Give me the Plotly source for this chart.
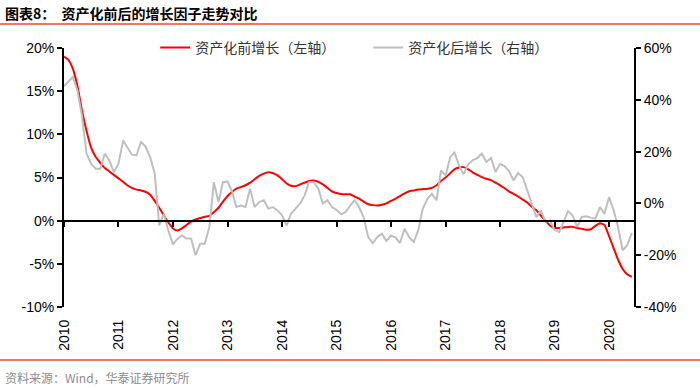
import plotly.graph_objects as go
import pandas as pd

# Monthly dates, Jan 2010 - Jun 2020
dates = pd.date_range("2010-01-01", periods=126, freq="MS").strftime("%Y-%m-%d").tolist()

# 资产化前增长（左轴）, %
pre_growth = [
    19.0, 18.6, 17.6, 15.6, 12.8, 10.4, 8.5, 7.4, 6.7, 6.1, 5.7, 5.3,
    4.9, 4.5, 4.1, 3.8, 3.6, 3.5, 3.35, 3.0, 2.3, 1.5, 0.6, -0.2,
    -0.9, -1.15, -0.9, -0.5, -0.1, 0.15, 0.3, 0.45, 0.55, 1.0, 1.5, 2.2,
    2.85, 3.35, 3.7, 3.9, 4.1, 4.4, 4.8, 5.2, 5.45, 5.6, 5.5, 5.25,
    4.8, 4.3, 4.05, 4.0, 4.2, 4.4, 4.6, 4.65, 4.5, 4.2, 3.8, 3.4,
    3.2, 3.1, 3.05, 3.05, 2.8, 2.55, 2.2, 1.9, 1.8, 1.75, 1.85, 2.0,
    2.3, 2.55, 2.85, 3.15, 3.4, 3.5, 3.6, 3.65, 3.7, 3.8, 4.1, 4.6,
    5.0, 5.5, 5.95, 6.15, 6.2, 5.95, 5.6, 5.3, 5.05, 4.85, 4.7, 4.4,
    4.1, 3.75, 3.4, 3.1, 2.8, 2.45, 2.1, 1.6, 1.2, 0.6, 0.0, -0.55,
    -0.85, -0.85, -0.8, -0.72, -0.72, -0.85, -0.95, -1.05, -1.0, -0.6, -0.3, -0.5,
    -1.8, -3.2, -4.5, -5.6, -6.2, -6.5,
]

# 资产化后增长（右轴）, %
post_growth = [
    45.2, 47.0, 48.8, 43.6, 34.0, 19.2, 15.3, 13.4, 13.4, 19.2, 16.6, 12.1,
    15.3, 24.3, 21.7, 18.8, 18.5, 23.7, 22.0, 17.9, 11.5, -8.5, -4.0, -10.4,
    -15.8, -13.6, -12.4, -13.6, -13.6, -20.0, -15.6, -15.6, -9.1, 8.2, 0.5, 8.2,
    8.5, 4.4, -1.4, -0.8, -1.4, 5.7, -1.4, 0.5, 1.2, -2.0, -1.4, -2.7,
    -4.6, -8.5, -4.0, -2.0, -0.1, 3.1, 8.2, 8.2, 5.7, -0.1, 1.2, -1.4,
    -2.5, -4.2, -3.4, -1.0, 1.2, -1.4, -5.3, -13.0, -15.3, -13.0, -11.7, -14.5,
    -12.4, -13.2, -15.3, -9.8, -13.0, -14.9, -10.4, -2.0, 1.8, 3.7, 1.2, 12.7,
    10.8, 17.9, 19.6, 14.7, 11.2, 15.1, 16.6, 17.5, 19.2, 16.0, 17.5, 12.1,
    15.3, 14.3, 12.5, 8.9, 11.7, 10.2, 5.0, -0.1, -5.3, -2.7, -7.2, -6.6,
    -10.2, -11.1, -7.2, -3.0, -4.6, -9.1, -5.3, -5.0, -5.5, -5.9, -1.4, -4.0,
    2.4, -2.7, -9.1, -18.1, -16.2, -11.5,
]

year_ticks = [f"{y}-01-01" for y in range(2010, 2021)]
year_labels = [str(y) for y in range(2010, 2021)]

FONT = "Liberation Sans, Arial, sans-serif"
CJK = "Noto Sans CJK SC, sans-serif"
x_range = ["2010-01-01", "2020-06-16"]

fig = go.Figure()
fig.add_trace(go.Scatter(
    x=dates, y=pre_growth, name="资产化前增长（左轴）", mode="lines",
    line=dict(color="#FF0000", width=2, shape="spline", smoothing=0.5),
    xaxis="x", yaxis="y",
))
fig.add_trace(go.Scatter(
    x=dates, y=post_growth, name="资产化后增长（右轴）", mode="lines",
    line=dict(color="#BFBFBF", width=2),
    xaxis="x", yaxis="y2",
))
# invisible helper trace so the zero-line x axis is drawn
fig.add_trace(go.Scatter(
    x=[dates[0]], y=[0], mode="lines", showlegend=False, hoverinfo="skip",
    line=dict(width=0), xaxis="x2", yaxis="y",
))

fig.update_layout(
    width=700, height=388,
    margin=dict(l=64, r=66, t=48, b=81),
    paper_bgcolor="white", plot_bgcolor="white",
    showlegend=True,
    legend=dict(
        orientation="h", x=0.16, y=1.0, xanchor="left", yanchor="middle",
        font=dict(family=CJK, size=14, color="#333333"),
        bgcolor="rgba(0,0,0,0)", entrywidth=168, entrywidthmode="pixels",
    ),
    xaxis=dict(
        type="date", range=x_range,
        tickvals=year_ticks, ticktext=year_labels, tickangle=-90,
        showline=False, showgrid=False, zeroline=False,
        ticks="outside", ticklen=6, tickcolor="rgba(0,0,0,0)",
        tickfont=dict(family=FONT, size=14, color="black"),
    ),
    xaxis2=dict(
        type="date", range=x_range, overlaying="x", anchor="free", position=1/3,
        tickvals=year_ticks, showticklabels=False,
        showline=True, linecolor="black", linewidth=2,
        ticks="outside", ticklen=5, tickwidth=2, tickcolor="black",
        showgrid=False, zeroline=False,
    ),
    yaxis=dict(
        range=[-10, 20], tickvals=[-10, -5, 0, 5, 10, 15, 20],
        ticktext=["-10%", "-5%", "0%", "5%", "10%", "15%", "20%"],
        showline=True, linecolor="black", linewidth=2,
        ticks="outside", ticklen=5, tickwidth=2, tickcolor="black",
        showgrid=False, zeroline=False,
        tickfont=dict(family=FONT, size=14, color="black"),
    ),
    yaxis2=dict(
        range=[-40, 60], tickvals=[-40, -20, 0, 20, 40, 60],
        ticktext=["-40%", "-20%", "0%", "20%", "40%", "60%"],
        overlaying="y", side="right", anchor="x",
        showline=True, linecolor="black", linewidth=2,
        ticks="outside", ticklen=5, tickwidth=2, tickcolor="black",
        showgrid=False, zeroline=False,
        tickfont=dict(family=FONT, size=14, color="black"),
    ),
)

# Title and source
fig.add_annotation(
    text="<b>图表8：  资产化前后的增长因子走势对比</b>", xref="paper", yref="paper",
    x=-61/570, y=1 + (48 - 13) / 259, xanchor="left", yanchor="middle",
    showarrow=False, font=dict(family=CJK, size=14, color="black"),
)
fig.add_annotation(
    text="资料来源：Wind，华泰证券研究所", xref="paper", yref="paper",
    x=-61/570, y=-(377 - 307) / 259, xanchor="left", yanchor="middle",
    showarrow=False, font=dict(family=CJK, size=12, color="#8C8C8C"),
)
# decorative red rules
fig.add_shape(type="line", xref="paper", yref="paper",
              x0=-64/570, x1=636/570, y0=1 + (48 - 24) / 259, y1=1 + (48 - 24) / 259,
              line=dict(color="#F0443A", width=1.5))
fig.add_shape(type="line", xref="paper", yref="paper",
              x0=-64/570, x1=636/570, y0=-(360 - 307) / 259, y1=-(360 - 307) / 259,
              line=dict(color="#F0443A", width=1.5))

fig.write_html(
    "out.html",
    config={"displayModeBar": False},
    post_script="document.body.style.margin='0';document.body.style.padding='0';",
)
